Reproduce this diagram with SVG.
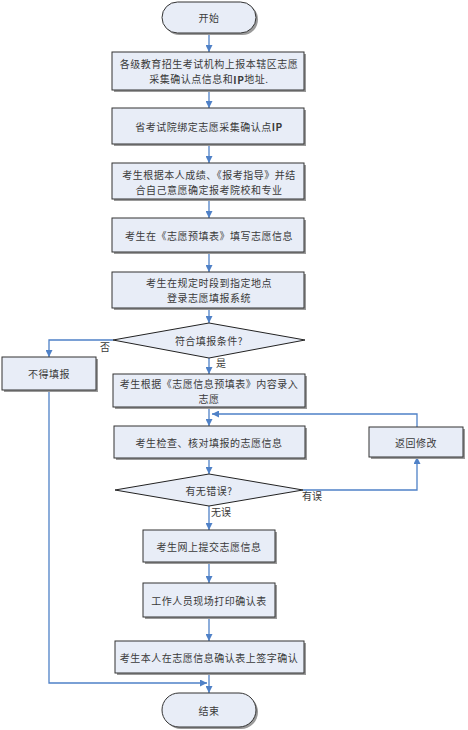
<svg xmlns="http://www.w3.org/2000/svg" width="468" height="730" viewBox="0 0 468 730">
<style>
.box{fill:#e8edf7;stroke:#333;stroke-width:1}
.sh{fill:#9a9a9a}
.t{font-family:"Noto Sans CJK SC","Liberation Serif",serif;font-size:10px;letter-spacing:0.5px;fill:#3a3a3a;text-anchor:middle;dominant-baseline:central}
.lb{font-family:"Noto Sans CJK SC","Liberation Serif",serif;font-size:10px;fill:#3a3a3a}
.c{fill:none;stroke:#4f81c7;stroke-width:1.3}
</style>
<defs>
<marker id="ar" viewBox="0 0 10 10" refX="10" refY="5" markerWidth="7" markerHeight="7" orient="auto" markerUnits="userSpaceOnUse">
<path d="M0,0 L10,5 L0,10 z" fill="#4f81c7"/>
</marker>
</defs>
<rect width="468" height="730" fill="#fff"/>
<g id="connectors">
<path class="c" d="M209,33 V52" marker-end="url(#ar)"/>
<path class="c" d="M209,90 V108" marker-end="url(#ar)"/>
<path class="c" d="M209,146 V163" marker-end="url(#ar)"/>
<path class="c" d="M209,201 V218" marker-end="url(#ar)"/>
<path class="c" d="M209,254 V272" marker-end="url(#ar)"/>
<path class="c" d="M209,310 V323" marker-end="url(#ar)"/>
<path class="c" d="M209,358 V374" marker-end="url(#ar)"/>
<path class="c" d="M209,407 V426" marker-end="url(#ar)"/>
<path class="c" d="M209,458 V474" marker-end="url(#ar)"/>
<path class="c" d="M209,506 V530" marker-end="url(#ar)"/>
<path class="c" d="M209,562 V583" marker-end="url(#ar)"/>
<path class="c" d="M209,617 V641" marker-end="url(#ar)"/>
<path class="c" d="M209,673 V693" marker-end="url(#ar)"/>
<path class="c" d="M113,340 H49 V357" marker-end="url(#ar)"/>
<path class="c" d="M49,390 V683 H207" marker-end="url(#ar)"/>
<path class="c" d="M303,490 H417 V457" marker-end="url(#ar)"/>
<path class="c" d="M417,427 V414 H212" marker-end="url(#ar)"/>
<text class="lb" x="100" y="351">否</text>
<text class="lb" x="216" y="367">是</text>
<text class="lb" x="302" y="500">有误</text>
<text class="lb" x="211" y="516">无误</text>
</g>
<g id="start">
<rect class="sh" x="164" y="4" width="94" height="31" rx="15.5"/>
<rect class="box" x="162" y="2" width="94" height="31" rx="15.5"/>
<text class="t" x="209" y="17.5">开始</text>
</g>
<g id="n1">
<rect class="sh" x="114" y="54" width="192" height="38"/>
<rect class="box" x="112" y="52" width="192" height="38"/>
<text class="t" x="209" y="63.5">各级教育招生考试机构上报本辖区志愿</text>
<text class="t" x="209" y="78.5">采集确认点信息和<tspan font-weight="bold">IP</tspan>地址.</text>
</g>
<g id="n2">
<rect class="sh" x="114" y="110" width="192" height="36"/>
<rect class="box" x="112" y="108" width="192" height="36"/>
<text class="t" x="209" y="126">省考试院绑定志愿采集确认点<tspan font-weight="bold">IP</tspan></text>
</g>
<g id="n3">
<rect class="sh" x="114" y="165" width="192" height="36"/>
<rect class="box" x="112" y="163" width="192" height="36"/>
<text class="t" x="209" y="174">考生根据本人成绩、《报考指导》并结</text>
<text class="t" x="209" y="189">合自己意愿确定报考院校和专业</text>
</g>
<g id="n4">
<rect class="sh" x="114" y="220" width="192" height="34"/>
<rect class="box" x="112" y="218" width="192" height="34"/>
<text class="t" x="209" y="235">考生在《志愿预填表》填写志愿信息</text>
</g>
<g id="n5">
<rect class="sh" x="114" y="274" width="192" height="36"/>
<rect class="box" x="112" y="272" width="192" height="36"/>
<text class="t" x="209" y="282.5">考生在规定时段到指定地点</text>
<text class="t" x="209" y="297.5">登录志愿填报系统</text>
</g>
<g id="d1">
<polygon points="209,323 305,340 209,358 113,340" fill="#e8edf7" stroke="#222" stroke-width="1"/>
<text class="t" x="209" y="340">符合填报条件?</text>
</g>
<g id="n_no">
<rect class="sh" x="4" y="359" width="94" height="33"/>
<rect class="box" x="2" y="357" width="94" height="33"/>
<text class="t" x="49" y="373">不得填报</text>
</g>
<g id="n6">
<rect class="sh" x="115" y="376" width="192" height="33"/>
<rect class="box" x="113" y="374" width="192" height="33"/>
<text class="t" x="209" y="383">考生根据《志愿信息预填表》内容录入</text>
<text class="t" x="209" y="398">志愿</text>
</g>
<g id="n7">
<rect class="sh" x="116" y="428" width="191" height="32"/>
<rect class="box" x="114" y="426" width="191" height="32"/>
<text class="t" x="209" y="442">考生检查、核对填报的志愿信息</text>
</g>
<g id="n_back">
<rect class="sh" x="371" y="429" width="94" height="30"/>
<rect class="box" x="369" y="427" width="94" height="30"/>
<text class="t" x="416" y="442">返回修改</text>
</g>
<g id="d2">
<polygon points="209,474 303,490 209,506 115,490" fill="#e8edf7" stroke="#222" stroke-width="1"/>
<text class="t" x="209" y="490">有无错误?</text>
</g>
<g id="n8">
<rect class="sh" x="145" y="532" width="132" height="32"/>
<rect class="box" x="143" y="530" width="132" height="32"/>
<text class="t" x="209" y="546">考生网上提交志愿信息</text>
</g>
<g id="n9">
<rect class="sh" x="145" y="585" width="132" height="34"/>
<rect class="box" x="143" y="583" width="132" height="34"/>
<text class="t" x="209" y="600">工作人员现场打印确认表</text>
</g>
<g id="n10">
<rect class="sh" x="117" y="643" width="189" height="32"/>
<rect class="box" x="115" y="641" width="189" height="32"/>
<text class="t" x="209" y="657">考生本人在志愿信息确认表上签字确认</text>
</g>
<g id="end">
<rect class="sh" x="164" y="695" width="94" height="34" rx="17"/>
<rect class="box" x="162" y="693" width="94" height="34" rx="17"/>
<text class="t" x="209" y="710">结束</text>
</g>
</svg>
